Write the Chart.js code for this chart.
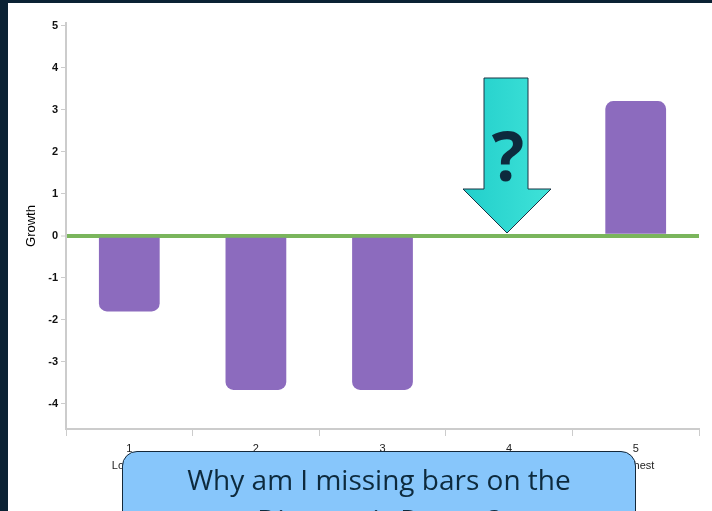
<!DOCTYPE html>
<html>
<head>
<meta charset="utf-8">
<script src="https://cdn.jsdelivr.net/npm/chart.js@4"></script>
<style>
  html, body { margin: 0; padding: 0; }
  body { width: 712px; height: 511px; overflow: hidden; background: #0b2234; position: relative; }
  #sheet { position: absolute; left: 8px; top: 3px; right: 0; bottom: 0; background: #fff; }
  #growthChart { position: absolute; left: 0; top: 0; }
  #arrow { position: absolute; left: 0; top: 0; }
  #bubble {
    position: absolute; left: 122px; top: 451px; width: 514px; height: 90px;
    background: #87c6fb; border: 1.5px solid #14283a; border-radius: 15px;
    font-family: "Open Sans", sans-serif; font-size: 28px; line-height: 40px;
    color: #0d2a3d; text-align: center; padding-top: 7px; box-sizing: border-box;
  }
</style>
</head>
<body>
<div id="sheet"></div>
<canvas id="growthChart" width="712" height="511"></canvas>
<svg id="arrow" width="712" height="511">
  <defs>
    <linearGradient id="cyan" x1="0" x2="1" y1="0" y2="0">
      <stop offset="0" stop-color="#22cfcb"/>
      <stop offset="1" stop-color="#3fe2d8"/>
    </linearGradient>
  </defs>
  <polygon points="484,78 528,78 528,189 551,189 507,233 463,189 484,189"
           fill="url(#cyan)" stroke="#1b3444" stroke-width="1"/>
  <text x="508" y="181" text-anchor="middle" font-family="Open Sans, sans-serif"
        font-weight="bold" font-size="68" fill="#0d2a3d">?</text>
</svg>
<div id="bubble">Why am I missing bars on the<br>Diagnostic Report?</div>
<script>
// chart values
var quintiles = ['1', '2', '3', '4', '5'];
var quintileNames = ['Lowest', '', '', '', 'Highest'];
var growth = [-1.8, -3.67, -3.67, null, 3.21];
var yTicks = [-4, -3, -2, -1, 0, 1, 2, 3, 4, 5];

var labels = quintiles.map(function(q, i){
    return quintileNames[i] ? [q, quintileNames[i]] : q;
});

var ctx = document.getElementById('growthChart');
var chart = new Chart(ctx, {
    type: 'bar',
    data: {
        labels: labels,
        datasets: [{
            label: 'Growth',
            data: growth,
            backgroundColor: '#8c6bbe',
            borderWidth: 0,
            borderRadius: 8,
            borderSkipped: 'start',
            categoryPercentage: 0.8,
            barPercentage: 0.6
        }]
    },
    options: {
        responsive: false,
        animation: false,
        layout: { padding: { top: 23, right: 13, bottom: 0, left: 0 } },
        plugins: { legend: { display: false }, tooltip: { enabled: false } },
        scales: {
            x: {
                offset: true,
                grid: {
                    offset: true,
                    drawOnChartArea: false,
                    tickLength: 7,
                    tickColor: '#cccccc',
                    color: '#cccccc'
                },
                border: { color: '#cccccc', width: 2 },
                ticks: {
                    padding: 4,
                    maxRotation: 0,
                    color: '#222',
                    font: { family: 'Liberation Sans, Arial, sans-serif', size: 11, lineHeight: 1.6 }
                },
                afterFit: function(scale){ scale.height = 82; }
            },
            y: {
                min: -4.6,
                max: 5.07,
                z: 1,
                afterBuildTicks: function(scale){
                    scale.ticks = yTicks.map(function(v){ return { value: v }; });
                },
                afterFit: function(scale){ scale.width = 66; },
                grid: {
                    color: function(c){ return c.tick && c.tick.value === 0 ? '#7ab55c' : 'rgba(0,0,0,0)'; },
                    lineWidth: function(c){ return c.tick && c.tick.value === 0 ? 4 : 1; },
                    tickColor: '#cccccc',
                    tickWidth: 1,
                    tickLength: 5
                },
                border: { color: '#cccccc', width: 2 },
                ticks: {
                    padding: 3,
                    color: '#111',
                    font: { family: 'Liberation Sans, Arial, sans-serif', size: 11, weight: 'bold' }
                },
                title: {
                    display: true,
                    text: 'Growth',
                    color: '#000',
                    padding: { top: 24, bottom: 0 },
                    font: { family: 'Liberation Sans, Arial, sans-serif', size: 13 }
                }
            }
        }
    }
});
</script>
</body>
</html>
